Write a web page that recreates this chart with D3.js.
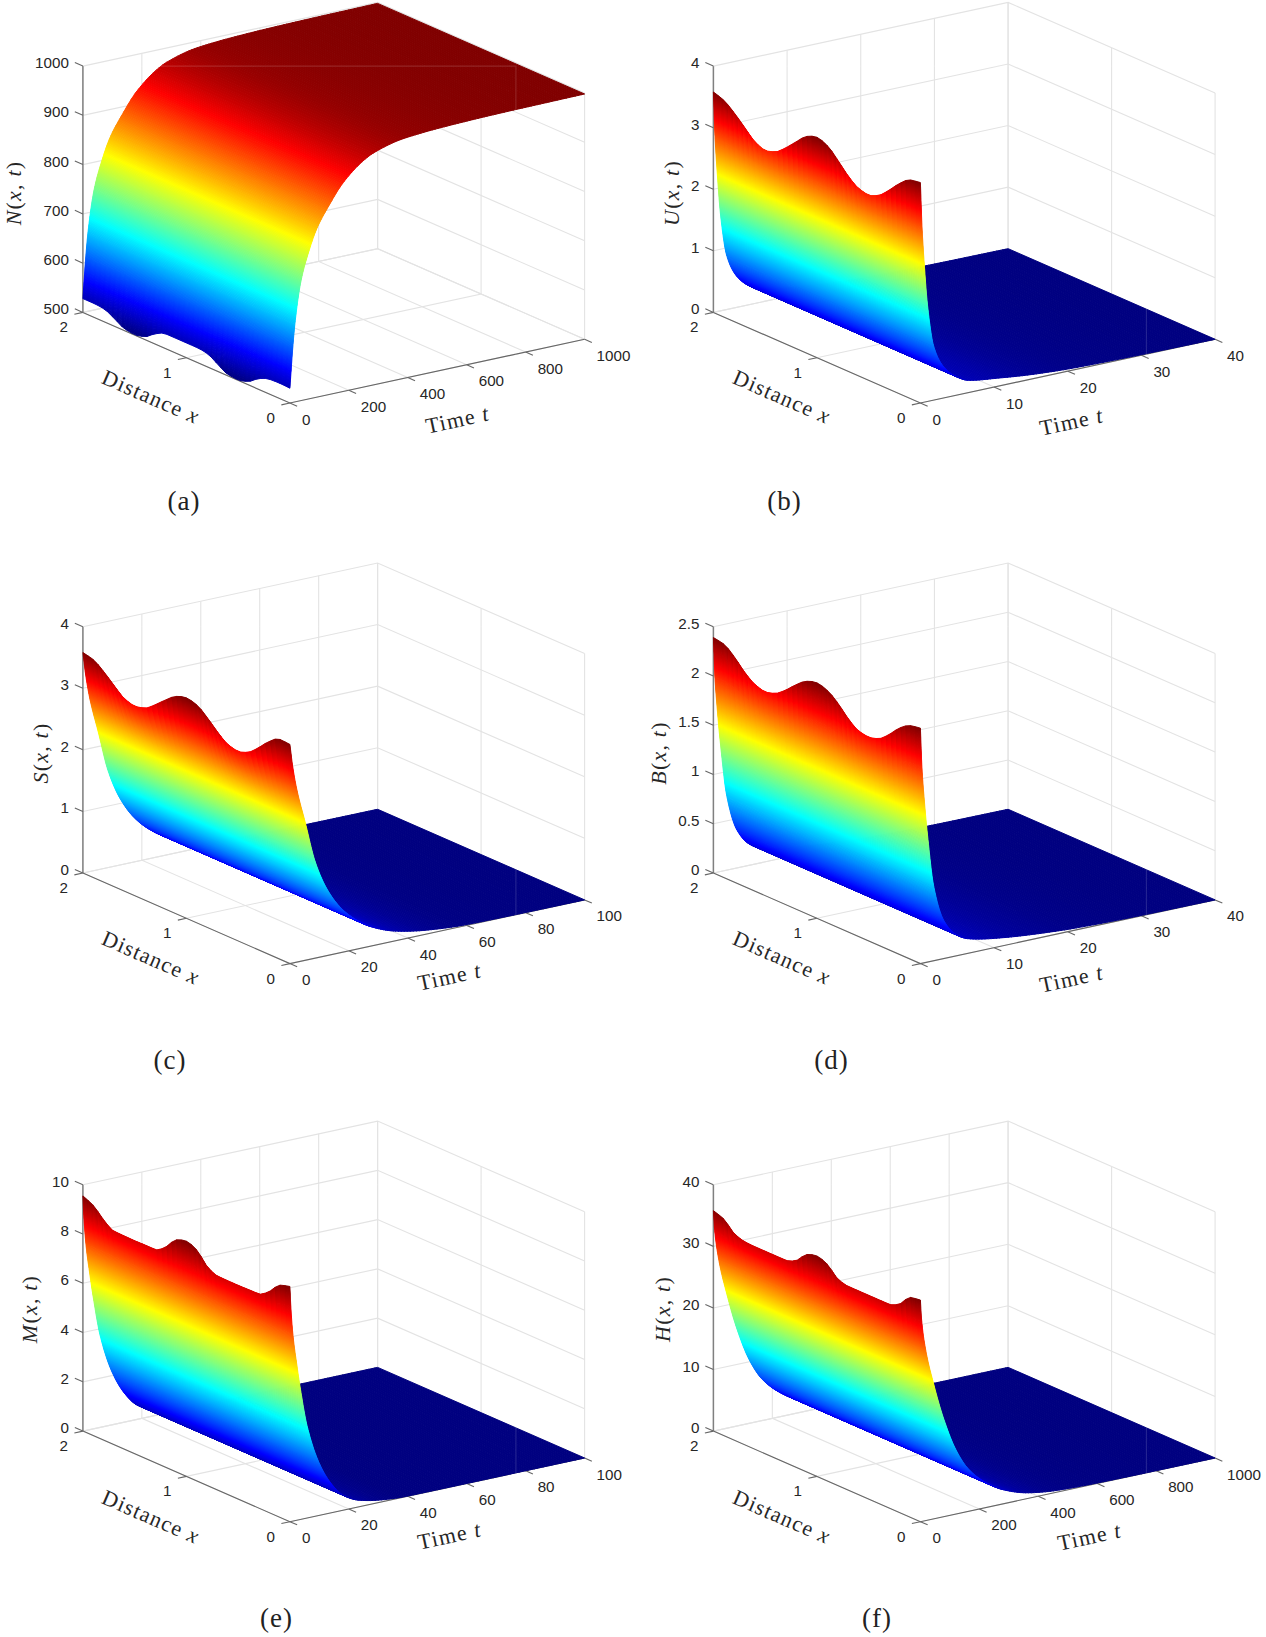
<!DOCTYPE html>
<html>
<head>
<meta charset="utf-8">
<script src="https://cdn.jsdelivr.net/npm/d3@7"></script>
<style>
  html, body { margin: 0; background: #fff; }
  svg { display: block; }
</style>
</head>
<body>
<div id="chart"></div>
<script>
// distance samples used by every top edge (x = 0 ... 2)
const xSamples = [0, 0.1, 0.2, 0.3, 0.4, 0.5, 0.6, 0.7, 0.8, 0.9, 1, 1.1, 1.2, 1.3, 1.4, 1.5, 1.6, 1.7, 1.8, 1.9, 2];
const xTicks = [0, 1, 2];

// value along x at t = 0
const nEdge = [530, 531, 530, 522, 507, 501, 503, 515, 527, 530, 530, 530, 530, 521, 506, 501, 504, 516, 526, 528, 528];
const uEdge = [3.58, 3.55, 3.42, 3.24, 3.08, 3.01, 3.05, 3.18, 3.36, 3.52, 3.58, 3.52, 3.36, 3.19, 3.05, 3.0, 3.07, 3.23, 3.39, 3.52, 3.58];
const sEdge = [3.56, 3.57, 3.46, 3.29, 3.14, 3.08, 3.12, 3.25, 3.41, 3.54, 3.58, 3.53, 3.40, 3.25, 3.12, 3.08, 3.13, 3.27, 3.42, 3.54, 3.58];
const bEdge = [2.39, 2.37, 2.30, 2.19, 2.10, 2.07, 2.09, 2.17, 2.28, 2.36, 2.39, 2.36, 2.28, 2.18, 2.10, 2.07, 2.10, 2.18, 2.29, 2.37, 2.39];
const mEdge = [9.55, 9.42, 8.98, 8.70, 8.69, 8.68, 8.68, 8.69, 8.90, 9.38, 9.55, 9.42, 8.95, 8.66, 8.66, 8.65, 8.66, 8.67, 8.95, 9.35, 9.55];
const hEdge = [36, 35.7, 33.9, 33.1, 33.1, 33.1, 33.1, 33.1, 33.6, 35.2, 35.8, 35.3, 33.6, 32.9, 32.9, 32.9, 32.9, 33, 33.6, 35.2, 35.8];

// value along t at x = 0
const nTimes = [0, 9.6, 16.5, 37, 64.5, 92, 133, 181, 250, 284, 387, 524, 700, 1000];
const nCurve = [530, 610, 656, 741, 800, 843, 884, 924, 960, 971, 987, 993, 996, 998];
const uTimes = [0, 0.22, 0.55, 0.98, 1.8, 3.2, 4.8, 6.5, 10.3, 15.8, 21, 30, 40];
const uCurve = [3.58, 2.85, 2.2, 1.55, 0.88, 0.5, 0.31, 0.20, 0.135, 0.065, 0.03, 0.01, 0];
const sTimes = [0, 0.96, 2.3, 5.3, 8.5, 12.6, 17.4, 22.2, 27.7, 36, 47, 59, 75, 100];
const sCurve = [3.58, 3.2, 2.82, 2.22, 1.58, 1.08, 0.72, 0.49, 0.31, 0.155, 0.06, 0.015, 0.004, 0];
const bTimes = [0, 0.2, 0.55, 0.98, 1.8, 3.16, 4.8, 6.4, 10.4, 16, 21.2, 30, 40];
const bCurve = [2.39, 2.0, 1.63, 1.28, 0.76, 0.39, 0.22, 0.15, 0.09, 0.045, 0.02, 0.005, 0];
const mTimes = [0, 0.3, 1, 2.3, 3.7, 5.8, 9.9, 14, 18.1, 23.6, 32, 39, 60, 100];
const mCurve = [9.55, 8.75, 7.6, 6.35, 5.2, 3.76, 2.14, 1.19, 0.61, 0.26, 0.07, 0.01, 0.002, 0];
const hTimes = [0, 4, 18, 45, 79, 120, 161, 216, 285, 367, 462, 572, 750, 1000];
const hCurve = [36, 32.8, 27.7, 21.9, 15.9, 10.5, 7, 4.3, 2.2, 0.9, 0.3, 0.1, 0.02, 0];

// how much of the t = 0 ripple is left once the surface has reached a given level
const rippleShare = [0, 0.05, 0.25, 0.6, 1];
const nRippleLevels = [610, 585, 560, 542, 530];
const uRippleLevels = [2.15, 2.5, 2.86, 3.22, 3.58];
const sRippleLevels = [2.15, 2.5, 2.86, 3.22, 3.58];
const bRippleLevels = [1.43, 1.67, 1.91, 2.15, 2.39];
const mRippleLevels = [7.6, 8.0, 8.4, 8.9, 9.55];
const hRippleLevels = [28.5, 30, 31.8, 33.6, 36];

// tick labels
const nTicks = [500, 600, 700, 800, 900, 1000];
const uTicks = [0, 1, 2, 3, 4];
const sTicks = [0, 1, 2, 3, 4];
const bTicks = [0, 0.5, 1, 1.5, 2, 2.5];
const mTicks = [0, 2, 4, 6, 8, 10];
const hTicks = [0, 10, 20, 30, 40];
const t1000Ticks = [0, 200, 400, 600, 800, 1000];
const t100Ticks = [0, 20, 40, 60, 80, 100];
const t40Ticks = [0, 10, 20, 30, 40];

// MATLAB jet
const jetStops = [0, 0.125, 0.375, 0.625, 0.875, 1];
const jetColors = ['#000080', '#0000ff', '#00ffff', '#ffff00', '#ff0000', '#800000'];

const width = 1266, height = 1637;

// the box is the same in all six panels: screen vectors of the three axes
const xVec = [-207, -90.6];
const tVec = [294.7, -63.7];
const zHeight = 246.3;

const panels = [
  { sym: 'N', tag: '(a)', edge: nEdge, times: nTimes, curve: nCurve, levels: nRippleLevels, zTicks: nTicks, tTicks: t1000Ticks,
    front: [289.9, 403], dist: [150, 399], time: [458, 422], zLab: [16, 193], cap: [184, 504] },
  { sym: 'U', tag: '(b)', edge: uEdge, times: uTimes, curve: uCurve, levels: uRippleLevels, zTicks: uTicks, tTicks: t40Ticks,
    front: [920.4, 403], dist: [781, 399], time: [1072, 424], zLab: [674, 193], cap: [784.6, 504] },
  { sym: 'S', tag: '(c)', edge: sEdge, times: sTimes, curve: sCurve, levels: sRippleLevels, zTicks: sTicks, tTicks: t100Ticks,
    front: [289.9, 963.6], dist: [150, 960], time: [450, 979], zLab: [42.5, 753], cap: [170, 1063] },
  { sym: 'B', tag: '(d)', edge: bEdge, times: bTimes, curve: bCurve, levels: bRippleLevels, zTicks: bTicks, tTicks: t40Ticks,
    front: [920.4, 963.6], dist: [781, 960], time: [1072, 981], zLab: [661, 753], cap: [831.5, 1063] },
  { sym: 'M', tag: '(e)', edge: mEdge, times: mTimes, curve: mCurve, levels: mRippleLevels, zTicks: mTicks, tTicks: t100Ticks,
    front: [289.9, 1521.7], dist: [150, 1519], time: [450, 1538], zLab: [32.3, 1309], cap: [276.5, 1620.5] },
  { sym: 'H', tag: '(f)', edge: hEdge, times: hTimes, curve: hCurve, levels: hRippleLevels, zTicks: hTicks, tTicks: t1000Ticks,
    front: [920.4, 1521.7], dist: [781, 1519], time: [1090, 1539], zLab: [665, 1309], cap: [877, 1621] }
];

const svg = d3.select('#chart').append('svg')
  .attr('width', width)
  .attr('height', height)
  .attr('viewBox', [0, 0, width, height]);

// monotone cubic through the read values, so the shading has no corners
function smooth(xs, ys) {
  const n = xs.length;
  const d = d3.range(n - 1).map(i => (ys[i + 1] - ys[i]) / (xs[i + 1] - xs[i]));
  const m = d3.range(n).map(i => {
    if (i === 0) return d[0];
    if (i === n - 1) return d[n - 2];
    if (d[i - 1] * d[i] <= 0) return 0;
    const a = xs[i] - xs[i - 1], b = xs[i + 1] - xs[i];
    return (a + b) * 3 * d[i - 1] * d[i] / ((2 * b + a) * d[i] + (b + 2 * a) * d[i - 1]);
  });
  const find = d3.bisector(v => v).right;
  return v => {
    const i = Math.max(0, Math.min(n - 2, find(xs, v) - 1));
    const h = xs[i + 1] - xs[i], s = (v - xs[i]) / h;
    const s2 = s * s, s3 = s2 * s;
    return (2 * s3 - 3 * s2 + 1) * ys[i] + (s3 - 2 * s2 + s) * h * m[i]
      + (3 * s2 - 2 * s3) * ys[i + 1] + (s3 - s2) * h * m[i + 1];
  };
}

function drawPanel(p) {
  const g = svg.append('g');
  const tMax = d3.max(p.tTicks);
  const zDomain = d3.extent(p.zTicks);

  const xScale = d3.scaleLinear().domain([0, 2]).range([0, 1]);
  const tScale = d3.scaleLinear().domain([0, tMax]).range([0, 1]);
  const zScale = d3.scaleLinear().domain(zDomain).range([0, zHeight]);

  const project = (x, t, z) => [
    p.front[0] + xScale(x) * xVec[0] + tScale(t) * tVec[0],
    p.front[1] + xScale(x) * xVec[1] + tScale(t) * tVec[1] - zScale(z)
  ];
  const line = pts => d3.line()(pts);

  // grid on the floor and the two back walls
  const gridPaths = [];
  p.tTicks.forEach(t => {
    gridPaths.push([project(0, t, zDomain[0]), project(2, t, zDomain[0]), project(2, t, zDomain[1])]);
  });
  xTicks.forEach(x => {
    gridPaths.push([project(x, 0, zDomain[0]), project(x, tMax, zDomain[0]), project(x, tMax, zDomain[1])]);
  });
  p.zTicks.forEach(z => {
    gridPaths.push([project(2, 0, z), project(2, tMax, z), project(0, tMax, z)]);
  });
  g.append('g').selectAll('path').data(gridPaths).join('path')
    .attr('d', line)
    .attr('fill', 'none')
    .attr('stroke', '#e3e3e3')
    .attr('stroke-width', 1.1);

  // axes with their ticks
  const axisColor = '#666';
  const axes = g.append('g').attr('fill', 'none').attr('stroke', axisColor).attr('stroke-width', 1.1);
  axes.append('path').attr('d', line([project(2, 0, zDomain[0]), project(0, 0, zDomain[0]), project(0, tMax, zDomain[0])]));
  axes.append('path').attr('d', line([project(2, 0, zDomain[0]), project(2, 0, zDomain[1])])).attr('stroke', '#808080').attr('stroke-width', 1.5);
  const tickPaths = [];
  p.zTicks.forEach(z => tickPaths.push([project(2, 0, z), project(2.078, 0, z)]));
  xTicks.forEach(x => tickPaths.push([project(x, 0, zDomain[0]), project(x, -0.029 * tMax, zDomain[0])]));
  p.tTicks.forEach(t => tickPaths.push([project(0, t, zDomain[0]), project(-0.07, t, zDomain[0])]));
  axes.selectAll('path.tick').data(tickPaths).join('path').attr('class', 'tick').attr('d', line);

  // surface
  const timeCurve = smooth(p.times, p.curve);
  const edgeCurve = smooth(xSamples, p.edge);
  const top = p.curve[0];
  const fade = d3.scaleLinear().domain(p.levels).range(rippleShare).clamp(true);
  const zAt = (x, t) => {
    const f = timeCurve(t);
    return f + (edgeCurve(x) - top) * fade(f);
  };
  const lo = d3.min(p.edge.concat(p.curve)), hi = d3.max(p.edge.concat(p.curve));
  const jet = d3.scaleLinear().domain(jetStops.map(s => lo + s * (hi - lo))).range(jetColors).clamp(true);

  const tMesh = [];
  d3.pairs(p.times).forEach(([a, b]) => {
    const steps = Math.ceil(Math.max(Math.abs(timeCurve(b) - timeCurve(a)) / (hi - lo) * 220, (b - a) / tMax * 100));
    d3.range(steps).forEach(k => tMesh.push(a + (b - a) * k / steps));
  });
  tMesh.push(tMax);
  const xMesh = d3.range(43).map(i => 2 - i * 2 / 42);

  const quads = [];
  d3.range(tMesh.length - 2, -1, -1).forEach(i => {
    const t0 = tMesh[i], t1 = tMesh[i + 1];
    if (fade(timeCurve(t0)) === 0) {
      const z0 = timeCurve(t0), z1 = timeCurve(t1);
      quads.push({ pts: [project(2, t1, z1), project(2, t0, z0), project(0, t0, z0), project(0, t1, z1)], z: (z0 + z1) / 2 });
    } else {
      d3.pairs(xMesh).forEach(([xa, xb]) => {
        const c = [zAt(xa, t1), zAt(xa, t0), zAt(xb, t0), zAt(xb, t1)];
        quads.push({ pts: [project(xa, t1, c[0]), project(xa, t0, c[1]), project(xb, t0, c[2]), project(xb, t1, c[3])], z: d3.mean(c) });
      });
    }
  });
  g.append('g').attr('stroke-width', 1).attr('stroke-linejoin', 'round')
    .selectAll('path').data(quads).join('path')
    .attr('d', d => line(d.pts) + 'Z')
    .attr('fill', d => jet(d.z))
    .attr('stroke', d => jet(d.z));

  // faint frame that shows through the surface in the original
  const corner = project(2, 0, zDomain[1]);
  const frameX = p.front[0] + 226;
  g.append('path')
    .attr('d', line([corner, [frameX, corner[1]], [frameX, project(0, tMax, zDomain[0])[1] + 20]]))
    .attr('fill', 'none')
    .attr('stroke', 'rgba(255,255,255,0.14)')
    .attr('stroke-width', 1.1);

  // tick labels
  const labels = g.append('g')
    .attr('font-family', '"Liberation Sans", Arial, sans-serif')
    .attr('font-size', 15.2)
    .attr('fill', '#262626');
  p.zTicks.forEach(z => {
    const q = project(2, 0, z);
    labels.append('text').attr('x', q[0] - 14).attr('y', q[1] + 2).attr('text-anchor', 'end').text(z);
  });
  xTicks.forEach(x => {
    const q = project(x, 0, zDomain[0]);
    labels.append('text').attr('x', q[0] - 15).attr('y', q[1] + 20).attr('text-anchor', 'end').text(x);
  });
  p.tTicks.forEach(t => {
    const q = project(0, t, zDomain[0]);
    labels.append('text').attr('x', q[0] + 12).attr('y', q[1] + 21.5).attr('text-anchor', 'start').text(t);
  });

  // axis titles and the panel tag
  const serif = '"Liberation Serif", "Times New Roman", serif';
  const title = (pos, angle, parts) => {
    const txt = g.append('text')
      .attr('transform', `translate(${pos[0]},${pos[1]}) rotate(${angle})`)
      .attr('text-anchor', 'middle')
      .attr('dominant-baseline', 'middle')
      .attr('font-family', serif)
      .attr('font-size', 22)
      .attr('letter-spacing', 1.2)
      .attr('fill', '#262626');
    parts.forEach(([s, italic]) => {
      txt.append('tspan').attr('font-style', italic ? 'italic' : 'normal').text(s);
    });
  };
  title(p.dist, 23.6, [['Distance ', false], ['x', true]]);
  title(p.time, -12.2, [['Time ', false], ['t', true]]);
  title(p.zLab, -90, [[p.sym, true], ['(', false], ['x', true], [', ', false], ['t', true], [')', false]]);

  g.append('text')
    .attr('x', p.cap[0]).attr('y', p.cap[1])
    .attr('text-anchor', 'middle')
    .attr('dominant-baseline', 'middle')
    .attr('font-family', serif)
    .attr('font-size', 27)
    .attr('letter-spacing', 1)
    .attr('fill', '#222')
    .text(p.tag);
}

panels.forEach(drawPanel);
</script>
</body>
</html>
